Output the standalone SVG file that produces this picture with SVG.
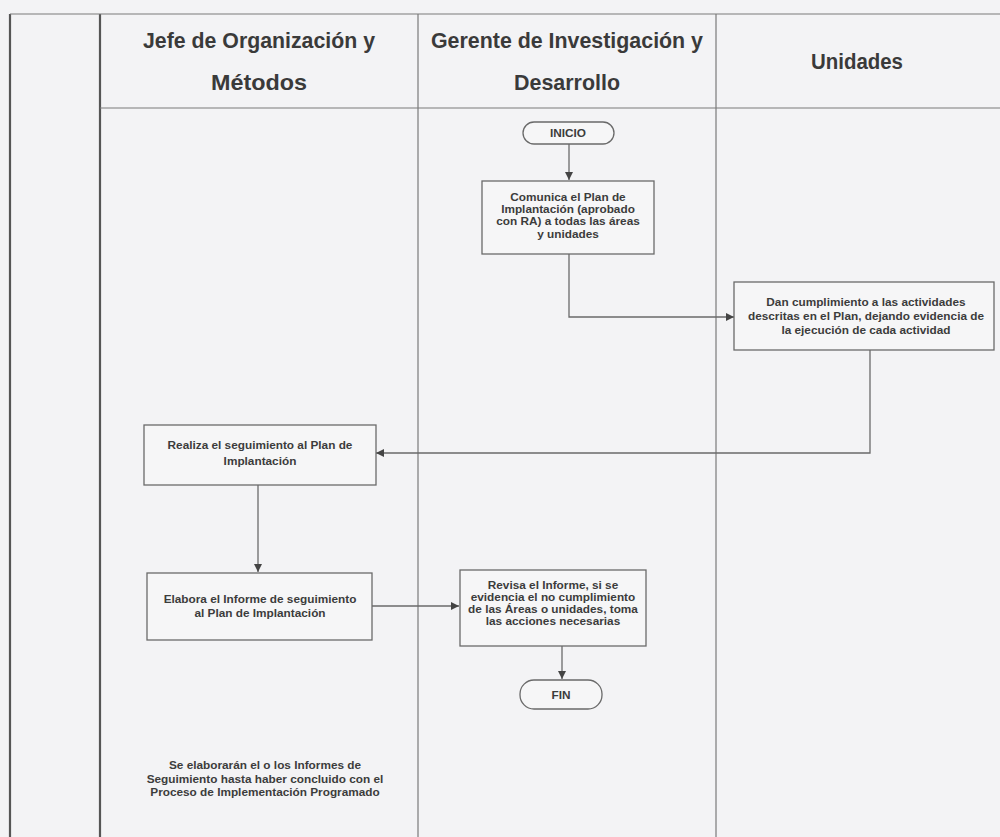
<svg xmlns="http://www.w3.org/2000/svg" width="1000" height="837" viewBox="0 0 1000 837">
<style>
.hdr{font-family:"Liberation Sans",Arial,sans-serif;font-weight:bold;font-size:22px;fill:#3a3a3a;text-anchor:middle}
.t{font-family:"Liberation Sans",Arial,sans-serif;font-weight:bold;font-size:11.8px;fill:#3c3c3c;text-anchor:middle}
.box{fill:#f6f6f7;stroke:#6a6a6a;stroke-width:1.3}
.term{fill:#f6f6f7;stroke:#6a6a6a;stroke-width:1.3}
.lane{stroke:#7a7a7a;stroke-width:1.2;fill:none}
.lane2{stroke:#555;stroke-width:2.2;fill:none}
.c{stroke:#6a6a6a;stroke-width:1.3;fill:none;marker-end:url(#ah)}
</style>
<defs>
<marker id="ah" viewBox="0 0 10 10" refX="10" refY="5" markerWidth="8" markerHeight="8" markerUnits="userSpaceOnUse" orient="auto">
<path d="M0,0 L10,5 L0,10 z" fill="#444"/>
</marker>
</defs>
<rect x="0" y="0" width="1000" height="837" fill="#f3f3f5"/>
<g id="lanes">
<line class="lane2" x1="10" y1="14" x2="10" y2="837"/>
<line class="lane2" x1="100" y1="14" x2="100" y2="837"/>
<line class="lane" x1="418" y1="14" x2="418" y2="837"/>
<line class="lane" x1="716" y1="14" x2="716" y2="837"/>
<line class="lane" x1="10" y1="14" x2="1000" y2="14"/>
<line class="lane" x1="100" y1="108" x2="1000" y2="108"/>
<text class="hdr" x="259" y="48" textLength="232" lengthAdjust="spacingAndGlyphs">Jefe de Organización y</text>
<text class="hdr" x="259" y="90" textLength="96" lengthAdjust="spacingAndGlyphs">Métodos</text>
<text class="hdr" x="567" y="48" textLength="272" lengthAdjust="spacingAndGlyphs">Gerente de Investigación y</text>
<text class="hdr" x="567" y="90" textLength="106" lengthAdjust="spacingAndGlyphs">Desarrollo</text>
<text class="hdr" x="857" y="69" textLength="92" lengthAdjust="spacingAndGlyphs">Unidades</text>
</g>
<g id="connectors">
<path class="c" d="M569,143 L569,180"/>
<path class="c" d="M569,254 L569,317 L734,317"/>
<path class="c" d="M870,350 L870,453 L376,453"/>
<path class="c" d="M258,485 L258,572"/>
<path class="c" d="M372,606 L459,606"/>
<path class="c" d="M562,646 L562,679"/>
</g>
<g id="inicio">
<rect class="term" x="523" y="122" width="91" height="22" rx="11"/>
<text class="t" x="568" y="137">INICIO</text>
</g>
<g id="comunica">
<rect class="box" x="482" y="181" width="172" height="73"/>
<text class="t" x="568" y="201">Comunica el Plan de</text>
<text class="t" x="568" y="213">Implantación (aprobado</text>
<text class="t" x="568" y="225">con RA) a todas las áreas</text>
<text class="t" x="568" y="238">y unidades</text>
</g>
<g id="dan">
<rect class="box" x="734" y="282" width="260" height="68"/>
<text class="t" x="866" y="306">Dan cumplimiento a las actividades</text>
<text class="t" x="866" y="320">descritas en el Plan, dejando evidencia de</text>
<text class="t" x="866" y="334">la ejecución de cada actividad</text>
</g>
<g id="realiza">
<rect class="box" x="144" y="425" width="232" height="60"/>
<text class="t" x="260" y="449">Realiza el seguimiento al Plan de</text>
<text class="t" x="260" y="465">Implantación</text>
</g>
<g id="elabora">
<rect class="box" x="147" y="573" width="225" height="67"/>
<text class="t" x="260" y="603">Elabora el Informe de seguimiento</text>
<text class="t" x="260" y="617">al Plan de Implantación</text>
</g>
<g id="revisa">
<rect class="box" x="460" y="570" width="186" height="76"/>
<text class="t" x="553" y="589">Revisa el Informe, si se</text>
<text class="t" x="553" y="601">evidencia el no cumplimiento</text>
<text class="t" x="553" y="613">de las Áreas o unidades, toma</text>
<text class="t" x="553" y="625">las acciones necesarias</text>
</g>
<g id="fin">
<rect class="term" x="520" y="680" width="82" height="29" rx="14"/>
<text class="t" x="561" y="699">FIN</text>
</g>
<g id="nota">
<text class="t" x="265" y="769">Se elaborarán el o los Informes de</text>
<text class="t" x="265" y="783">Seguimiento hasta haber concluido con el</text>
<text class="t" x="265" y="796">Proceso de Implementación Programado</text>
</g>
</svg>
